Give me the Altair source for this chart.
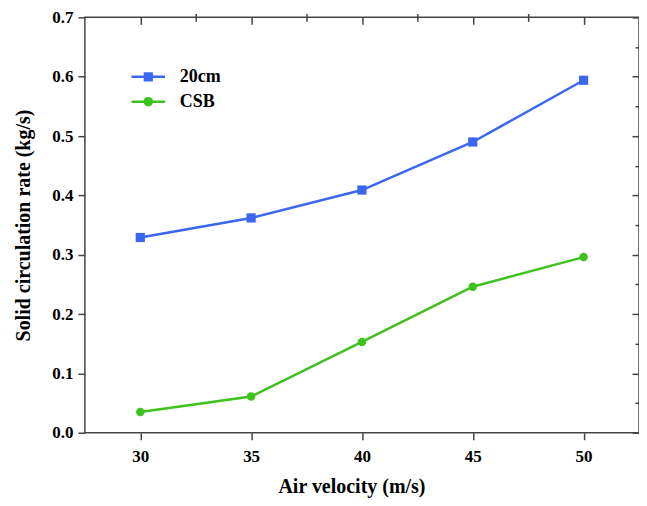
import altair as alt
import pandas as pd

velocity = [30, 35, 40, 45, 50]
rate_20cm = [0.329, 0.362, 0.409, 0.490, 0.594]
rate_csb = [0.035, 0.061, 0.153, 0.246, 0.296]
series_names = ["20cm", "CSB"]
colors = ["#3A66F0", "#3CC21A"]
x_major = [30, 35, 40, 45, 50]
x_minor = [32.5, 37.5, 42.5, 47.5]
y_major = [0.0, 0.1, 0.2, 0.3, 0.4, 0.5, 0.6, 0.7]
y_minor = [0.05, 0.15, 0.25, 0.35, 0.45, 0.55, 0.65]

df = pd.DataFrame({
    "v": velocity * 2,
    "rate": rate_20cm + rate_csb,
    "series": [series_names[0]] * len(velocity) + [series_names[1]] * len(velocity),
})

W, H = 555, 416
FONT = "Liberation Serif"
TICK = "#444444"

xs = alt.Scale(domain=[27.5, 52.5], nice=False, zero=False)
ys = alt.Scale(domain=[0, 0.7], nice=False, zero=False)
cs = alt.Scale(domain=series_names, range=colors)

base = alt.Chart(df)

line = base.mark_line(strokeWidth=2.5).encode(
    x=alt.X("v:Q", scale=xs, axis=alt.Axis(values=x_major, format="d", tickSize=7,
            labelPadding=9, title="Air velocity (m/s)", titlePadding=12, titleX=267,
            titleFontSize=20)),
    y=alt.Y("rate:Q", scale=ys, axis=alt.Axis(values=y_major, format=".1f", tickSize=7,
            labelPadding=5, title="Solid circulation rate (kg/s)", titlePadding=18,
            titleFontSize=20)),
    color=alt.Color("series:N", scale=cs, legend=None),
)

points = base.mark_point(filled=True, opacity=1).encode(
    x=alt.X("v:Q", scale=xs, axis=alt.Axis(values=x_minor, tickSize=4, labels=False, title=None)),
    y=alt.Y("rate:Q", scale=ys, axis=alt.Axis(values=y_minor, tickSize=4, labels=False, title=None)),
    color=alt.Color("series:N", scale=cs, legend=None),
    shape=alt.Shape("series:N", scale=alt.Scale(domain=series_names, range=["square", "circle"]), legend=None),
    size=alt.Size("series:N", scale=alt.Scale(domain=series_names, range=[85, 72]), legend=None),
)

paths = [
    "M-2.1,0H2.1M-0.42,-0.42H0.42V0.42H-0.42Z",
    "M-2.1,0H2.1M0.44,0A0.44,0.44 0 1,1 -0.44,0A0.44,0.44 0 1,1 0.44,0Z",
]
leg = alt.Legend(orient="none", legendX=54, legendY=50, title=None, symbolSize=256,
                 symbolStrokeWidth=2.5, symbolOpacity=1, labelFont=FONT, labelFontSize=18,
                 labelFontWeight="bold", labelColor="black", labelOffset=22, rowPadding=6,
                 padding=0)

legend_layer = base.transform_filter("datum.rate < 0").mark_point(filled=True, opacity=1).encode(
    x=alt.X("v:Q", scale=xs, axis=alt.Axis(orient="bottom", offset=-H, values=x_major, tickSize=7,
            labels=False, title=None)),
    y=alt.Y("rate:Q", scale=ys, axis=alt.Axis(orient="left", offset=-W, values=y_major, tickSize=7,
            labels=False, title=None)),
    fill=alt.Fill("series:N", scale=cs, legend=leg),
    stroke=alt.Stroke("series:N", scale=cs, legend=leg),
    shape=alt.Shape("series:N", scale=alt.Scale(domain=series_names, range=paths), legend=leg),
)

minor_mirror = base.transform_filter("datum.rate < 0").mark_point().encode(
    x=alt.X("v:Q", scale=xs, axis=alt.Axis(orient="bottom", offset=-H, values=x_minor, tickSize=4,
            labels=False, title=None)),
    y=alt.Y("rate:Q", scale=ys, axis=alt.Axis(orient="left", offset=-W, values=y_minor, tickSize=4,
            labels=False, title=None)),
)

chart = alt.layer(line, points, legend_layer, minor_mirror).resolve_axis(
    x="independent", y="independent"
).resolve_scale(
    shape="independent", fill="independent", stroke="independent"
).properties(
    width=W, height=H, autosize="none",
    padding={"left": 77, "top": 9, "right": 0, "bottom": 65},
).configure_view(
    stroke=TICK, strokeWidth=1.5
).configure_axis(
    domain=False, grid=False, tickColor=TICK, tickWidth=1.5,
    labelFont=FONT, labelFontSize=17, labelFontWeight="bold", labelColor="black",
    titleFont=FONT, titleFontSize=20, titleFontWeight="bold", titleColor="black",
)

chart.save("out.html", embed_options={"renderer": "svg", "actions": False})
